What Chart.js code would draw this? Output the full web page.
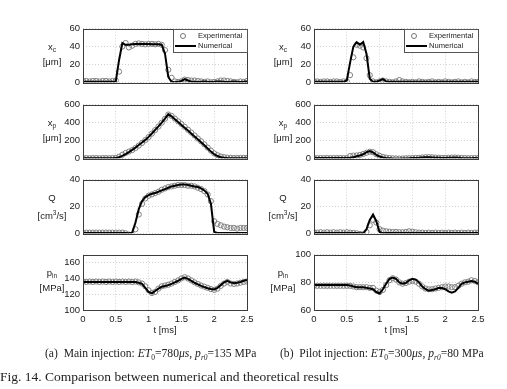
<!DOCTYPE html>
<html>
<head>
<meta charset="utf-8">
<script src="https://cdn.jsdelivr.net/npm/chart.js@4.4.1/dist/chart.umd.min.js"></script>
<style>
  html, body { margin: 0; padding: 0; background: #fff; }
  body { width: 507px; height: 389px; position: relative; overflow: hidden; font-family: "Liberation Sans", Arial, sans-serif; color: #222; }
  canvas { position: absolute; }
  .ylab { position: absolute; width: 40px; text-align: center; font-size: 9.5px; line-height: 12px; color: #222; }
  .ylab sub { font-size: 6.5px; vertical-align: -2px; }
  .ylab sup { font-size: 6.5px; vertical-align: 4px; }
  .xlab { position: absolute; width: 60px; text-align: center; font-size: 9.5px; color: #222; }
  .legend { position: absolute; width: 73px; height: 22px; border: 1px solid #555; background: #fff; font-size: 7.6px; color: #222; }
  .legend .row { position: absolute; left: 0; height: 10px; line-height: 10px; }
  .legend .mk { position: absolute; left: 6px; top: 2px; width: 4px; height: 4px; border: 1px solid #777; border-radius: 50%; }
  .legend .ln { position: absolute; left: 1px; top: 4px; width: 21px; height: 2px; background: #000; }
  .legend .tx { position: absolute; left: 24px; top: 0; white-space: nowrap; }
  .cap { position: absolute; font-family: "Liberation Serif", "Times New Roman", serif; font-size: 11.6px; color: #222; white-space: nowrap; }
  .cap sub { font-size: 7.5px; }
  .fig { position: absolute; font-family: "Liberation Serif", "Times New Roman", serif; font-size: 13.5px; color: #222; white-space: nowrap; }
</style>
</head>
<body>
<script>
// --- time samples [ms] ---
const times = [
  0, 0.05, 0.1, 0.15, 0.2, 0.25, 0.3, 0.35, 0.4, 0.45,
  0.5, 0.55, 0.6, 0.65, 0.7, 0.75, 0.8, 0.85, 0.9, 0.95,
  1.0, 1.05, 1.1, 1.15, 1.2, 1.25, 1.3, 1.35, 1.4, 1.45,
  1.5, 1.55, 1.6, 1.65, 1.7, 1.75, 1.8, 1.85, 1.9, 1.95,
  2.0, 2.05, 2.1, 2.15, 2.2, 2.25, 2.3, 2.35, 2.4, 2.45,
  2.5
];
const timeTicks = [0, 0.5, 1, 1.5, 2, 2.5];

// --- (a) main injection ---
const xcMainNum = [
  0.5, 0.5, 0.5, 0.5, 0.5, 0.5, 0.5, 0.5, 0.5, 0.5,
  1, 25, 44, 42, 42, 42.5, 43, 43, 43, 43,
  43, 42.5, 42.5, 42.5, 42, 32, 6, 0.5, 0, 0.5,
  1.5, 3.5, 2, 0.5, 0.5, 0.3, 0.5, 0.8, 0.5, 0.3,
  0.5, 0.8, 1, 0.5, 0.3, 0.5, 0.8, 0.5, 0.3, 0.5,
  0.8
];
const xcMainExp = [
  1.5, 1.5, 1, 1.5, 1.5, 1, 1.5, 1.5, 1, 1.5,
  2, 12, 40, 44, 39, 41, 43, 43.5, 43, 42.5,
  43, 43, 42.5, 43, 42, 36, 14, 5, 1, 0.5,
  1, 3, 2.5, 2, 2, 1.5, 1, 0.5, 1, 0,
  0.5, 1, 2, 2, 1.5, 1, 0.5, 0, 1, 0.5,
  1.5
];
const xpMainNum = [
  0, 0, 0, 0, 0, 0, 0, 0, 0, 0,
  2, 12, 28, 48, 70, 95, 120, 148, 176, 206,
  240, 278, 318, 358, 400, 445, 495, 470, 438, 406,
  374, 342, 310, 278, 245, 212, 180, 146, 110, 75,
  45, 25, 12, 6, 3, 1, 0, 0, 0, 0,
  0
];
const xpMainExp = [
  2, 2, 1, 2, 2, 1, 2, 2, 1, 2,
  5, 18, 40, 60, 75, 92, 115, 142, 172, 204,
  238, 276, 316, 356, 398, 442, 490, 475, 445, 414,
  384, 352, 320, 288, 256, 222, 190, 156, 120, 86,
  55, 35, 20, 12, 8, 5, 3, 3, 4, 5,
  4
];
const qMainNum = [
  0.3, 0.3, 0.3, 0.3, 0.3, 0.3, 0.3, 0.3, 0.3, 0.3,
  0.3, 0.3, 0.3, 0.3, 0, 0.5, 8, 18, 24, 27,
  28.5, 29.5, 30, 31, 32, 33, 34, 35, 35.5, 36,
  36.5, 36.5, 36, 35.5, 35, 34.5, 33.5, 32, 29.5, 22,
  1, 0.3, 0.3, 0.3, 0.3, 0.3, 0.3, 0.3, 0.3, 0.3,
  0.3
];
const qMainExp = [
  0.5, 0.5, 0.5, 0.5, 0.5, 0.5, 0.5, 0.5, 0.5, 0.5,
  0.5, 0.5, 0.5, 0, -1, -1, 3, 14, 22, 26,
  28, 29, 30, 31, 32.5, 33.5, 34.5, 35, 35.5, 36,
  36, 36, 35.5, 35.5, 35, 34, 33, 31.5, 29, 24,
  9, 7, 6, 5, 4.5, 4, 4, 3.5, 4, 4,
  4
];
const pMainNum = [
  135.5, 135.5, 135.5, 135.5, 135.5, 135.5, 135.5, 135.5, 135.5, 135.5,
  135.5, 135.5, 135.5, 135.5, 135.5, 135.5, 135.5, 134.5, 133, 128,
  123, 121, 124, 127, 129.5, 130.5, 131.5, 133, 135, 137,
  139.5, 141, 139.5, 137, 134.5, 132.5, 130.5, 129, 127.5, 126.5,
  126, 128, 131.5, 135, 137, 135, 134, 134.5, 135.5, 137,
  138
];
const pMainExp = [
  136, 135.5, 136, 135.5, 136, 135.5, 136, 135.5, 136, 135.5,
  136, 135.5, 136, 135.5, 136, 135.5, 136, 135, 133.5, 130,
  125, 121.5, 123, 127, 130, 131, 132, 133.5, 135.5, 137.5,
  140, 141.5, 140, 137.5, 135, 133, 131, 129.5, 128, 126.5,
  125.5, 127, 130.5, 133.5, 135.5, 133.5, 133, 133.5, 134.5, 135.5,
  136
];

// --- (b) pilot injection ---
const xcPilotNum = [
  0.5, 0.5, 0.5, 0.5, 0.5, 0.5, 0.5, 0.5, 0.5, 0.5,
  2, 22, 40, 45, 42, 45, 32, 4, 0.5, 0.5,
  2, 3.5, 1, 0.5, 0.5, 0.5, 0.5, 0.5, 0.5, 0.5,
  0.5, 0.5, 0.5, 0.5, 0.5, 0.5, 0.5, 0.5, 0.5, 0.5,
  0.5, 0.5, 0.5, 0.5, 0.5, 0.5, 0.5, 0.5, 0.5, 0.5,
  0.5
];
const xcPilotExp = [
  1, 1, 0.5, 1, 1, 0.5, 1, 1, 0.5, 1,
  1, 8, 28, 42, 41, 39, 27, 8, 1, 0,
  1, 2, 1, 0.5, 0, 1, 2.5, 1, 0.5, 0,
  0.5, 0, 1, 0.5, 0, 0.5, 1, 0, 0.5, 0,
  1, 0.5, 0, 0.5, 1, 0, 0.5, 0, 1, 0.5,
  0.5
];
const xpPilotNum = [
  2, 2, 2, 2, 2, 2, 2, 2, 2, 2,
  2, 5, 12, 22, 32, 45, 68, 80, 65, 38,
  20, 9, 3, 0, -3, -5, -5, -3, -1, 0,
  2, 3, 5, 8, 11, 12, 10, 7, 5, 3,
  3, 5, 7, 8, 6, 3, 1, 0, 1, 2,
  1
];
const xpPilotExp = [
  3, 2, 3, 2, 3, 2, 3, 2, 3, 2,
  3, 25, 30, 32, 38, 48, 62, 74, 68, 45,
  28, 15, 8, 3, 0, -2, -3, -2, 0, 1,
  3, 4, 6, 9, 12, 13, 11, 8, 6, 4,
  4, 6, 8, 9, 7, 4, 2, 1, 2, 3,
  2
];
const qPilotNum = [
  0.3, 0.3, 0.3, 0.3, 0.3, 0.3, 0.3, 0.3, 0.3, 0.3,
  0.3, 0.3, 0.3, 0.3, 0, 0, 3, 10, 14, 9,
  1, 0, 0.3, 0.3, 0.3, 0.3, 0.3, 0.3, 0.3, 0.3,
  0.3, 0.3, 0.3, 0.3, 0.3, 0.3, 0.3, 0.3, 0.3, 0.3,
  0.3, 0.3, 0.3, 0.3, 0.3, 0.3, 0.3, 0.3, 0.3, 0.3,
  0.3
];
const qPilotExp = [
  0.8, 0.5, 0.8, 0.5, 0.8, 0.5, 0.8, 0.5, 0.8, 0.5,
  0.8, 0.5, 0.3, 0, -0.5, -0.8, 1, 6, 10, 8,
  3, 2, 1.5, 1.2, 1, 1, 0.8, 0.8, 1, 1.5,
  1.2, 0.8, 0.5, 0.5, 0.3, 0.5, 0.3, 0.5, 0.3, 0.5,
  0.3, 0.5, 0.3, 0.5, 0.3, 0.5, 0.3, 0.5, 0.3, 0.5,
  0.5
];
const pPilotNum = [
  78, 78, 78, 78, 78, 78, 78, 78, 78, 78,
  78, 77.8, 77, 76.5, 76.5, 76.5, 76, 75.5, 75, 73,
  72, 75, 79, 82.5, 83.5, 82.5, 80, 79, 79.5, 81.5,
  82.5, 82, 80, 77, 75, 74, 74.5, 75, 76, 76,
  75, 73.5, 72.5, 73.5, 76, 79, 80, 80.5, 81, 80.5,
  79
];
const pPilotExp = [
  77.5, 77.5, 77.5, 77.5, 77.5, 77.5, 77.5, 77.5, 77.5, 77.5,
  77.5, 77.5, 77, 76.5, 76.5, 76.5, 76.5, 76, 76, 74,
  73, 74.5, 78, 81.5, 83, 82, 80, 79, 79.5, 80.5,
  81, 80.5, 79, 77, 75.5, 75, 75, 75.5, 76, 76.5,
  77, 77, 76.5, 76.5, 77.5, 79, 80, 80.5, 81.5, 81,
  80
];

// --- axis ticks ---
const xcTicks = [0, 20, 40, 60];
const xpTicks = [0, 200, 400, 600];
const qTicks = [0, 20, 40];
const pMainTicks = [100, 120, 140, 160];
const pPilotTicks = [60, 80, 100];

// --- layout ---
const colLeft = [83, 314];
const rowTop = [28, 104, 179, 254];
const rowH = [55, 55, 55, 56];
const plotW = 164;
const yAxisW = 36, padTop = 8, padRight = 12;

const panels = [
  { col: 0, row: 0, num: xcMainNum, exp: xcMainExp, min: 0, max: 60, ticks: xcTicks, lab: 'x<sub>c</sub>', unit: '[&mu;m]' },
  { col: 0, row: 1, num: xpMainNum, exp: xpMainExp, min: 0, max: 600, ticks: xpTicks, lab: 'x<sub>p</sub>', unit: '[&mu;m]' },
  { col: 0, row: 2, num: qMainNum, exp: qMainExp, min: 0, max: 40, ticks: qTicks, lab: 'Q', unit: '[cm<sup>3</sup>/s]' },
  { col: 0, row: 3, num: pMainNum, exp: pMainExp, min: 100, max: 170, ticks: pMainTicks, lab: 'p<sub>in</sub>', unit: '[MPa]' },
  { col: 1, row: 0, num: xcPilotNum, exp: xcPilotExp, min: 0, max: 60, ticks: xcTicks, lab: 'x<sub>c</sub>', unit: '[&mu;m]' },
  { col: 1, row: 1, num: xpPilotNum, exp: xpPilotExp, min: 0, max: 600, ticks: xpTicks, lab: 'x<sub>p</sub>', unit: '[&mu;m]' },
  { col: 1, row: 2, num: qPilotNum, exp: qPilotExp, min: 0, max: 40, ticks: qTicks, lab: 'Q', unit: '[cm<sup>3</sup>/s]' },
  { col: 1, row: 3, num: pPilotNum, exp: pPilotExp, min: 60, max: 100, ticks: pPilotTicks, lab: 'p<sub>in</sub>', unit: '[MPa]' }
];

// рамка вокруг области графика (как в MATLAB)
const boxPlugin = {
  id: 'box',
  afterDraw(chart) {
    const { ctx, chartArea: a } = chart;
    ctx.save();
    ctx.strokeStyle = '#3c3c3c';
    ctx.lineWidth = 1;
    ctx.strokeRect(Math.round(a.left) + 0.5, Math.round(a.top) + 0.5, Math.round(a.width), Math.round(a.height));
    ctx.restore();
  }
};

const tickFont = { family: '"Liberation Sans", Arial, sans-serif', size: 9.5 };

function addDiv(cls, html, left, top) {
  const d = document.createElement('div');
  d.className = cls;
  d.innerHTML = html;
  d.style.left = left + 'px';
  d.style.top = top + 'px';
  document.body.appendChild(d);
  return d;
}

panels.forEach(p => {
  const bottom = p.row === 3;
  const xAxisH = bottom ? 16 : 8;
  const left = colLeft[p.col], top = rowTop[p.row], h = rowH[p.row];

  const canvas = document.createElement('canvas');
  const cw = yAxisW + plotW + padRight;
  const ch = padTop + h + xAxisH;
  canvas.width = cw; canvas.height = ch;
  canvas.style.width = cw + 'px'; canvas.style.height = ch + 'px';
  canvas.style.left = (left - yAxisW) + 'px';
  canvas.style.top = (top - padTop) + 'px';
  document.body.appendChild(canvas);

  new Chart(canvas, {
    type: 'scatter',
    data: {
      datasets: [
        {
          label: 'Numerical',
          data: times.map((t, i) => ({ x: t, y: p.num[i] })),
          showLine: true,
          borderColor: '#000',
          borderWidth: 2,
          pointRadius: 0,
          tension: 0,
          order: 0
        },
        {
          label: 'Experimental',
          data: times.map((t, i) => ({ x: t, y: p.exp[i] })),
          showLine: false,
          pointStyle: 'circle',
          pointRadius: 2.6,
          pointBorderWidth: 1,
          pointBorderColor: '#808080',
          pointBackgroundColor: 'rgba(0,0,0,0)',
          order: 1
        }
      ]
    },
    options: {
      responsive: false,
      animation: false,
      events: [],
      layout: { padding: { top: padTop, right: padRight, left: 0, bottom: 0 } },
      plugins: { legend: { display: false }, tooltip: { enabled: false } },
      scales: {
        x: {
          type: 'linear', min: 0, max: 2.5,
          afterBuildTicks: s => { s.ticks = timeTicks.map(v => ({ value: v })); },
          afterFit: s => { s.height = xAxisH; },
          grid: { color: '#c4c4c4', lineWidth: 0.8, drawTicks: false },
          border: { display: false, dash: [1, 2] },
          ticks: { display: bottom, padding: 4, color: '#222', font: tickFont, maxRotation: 0, callback: v => String(v) }
        },
        y: {
          type: 'linear', min: p.min, max: p.max,
          afterBuildTicks: s => { s.ticks = p.ticks.map(v => ({ value: v })); },
          afterFit: s => { s.width = yAxisW; },
          grid: { color: '#c4c4c4', lineWidth: 0.8, drawTicks: false },
          border: { display: false, dash: [1, 2] },
          ticks: { padding: 3, color: '#222', font: tickFont, callback: v => String(v) }
        }
      }
    },
    plugins: [boxPlugin]
  });

  // подписи оси Y
  const cx = left - 51;
  addDiv('ylab', p.lab, cx, top + 13);
  addDiv('ylab', p.unit, cx, top + 28);

  if (bottom) addDiv('xlab', 't [ms]', left + plotW / 2 - 30, top + h + 14);

  if (p.row === 0) {
    addDiv('legend',
      '<div class="row" style="top:1px;width:73px"><span class="mk"></span><span class="tx">Experimental</span></div>' +
      '<div class="row" style="top:11px;width:73px"><span class="ln"></span><span class="tx">Numerical</span></div>',
      left + plotW - 74, top + 1);
  }
});

addDiv('cap', '(a)&nbsp; Main injection: <i>ET</i><sub>0</sub>=780<i>&mu;s</i>, <i>p</i><sub><i>r0</i></sub>=135 MPa', 45, 347);
addDiv('cap', '(b)&nbsp; Pilot injection: <i>ET</i><sub>0</sub>=300<i>&mu;s</i>, <i>p</i><sub><i>r0</i></sub>=80 MPa', 280, 347);
addDiv('fig', 'Fig. 14. Comparison between numerical and theoretical results', 0, 369);
</script>
</body>
</html>
